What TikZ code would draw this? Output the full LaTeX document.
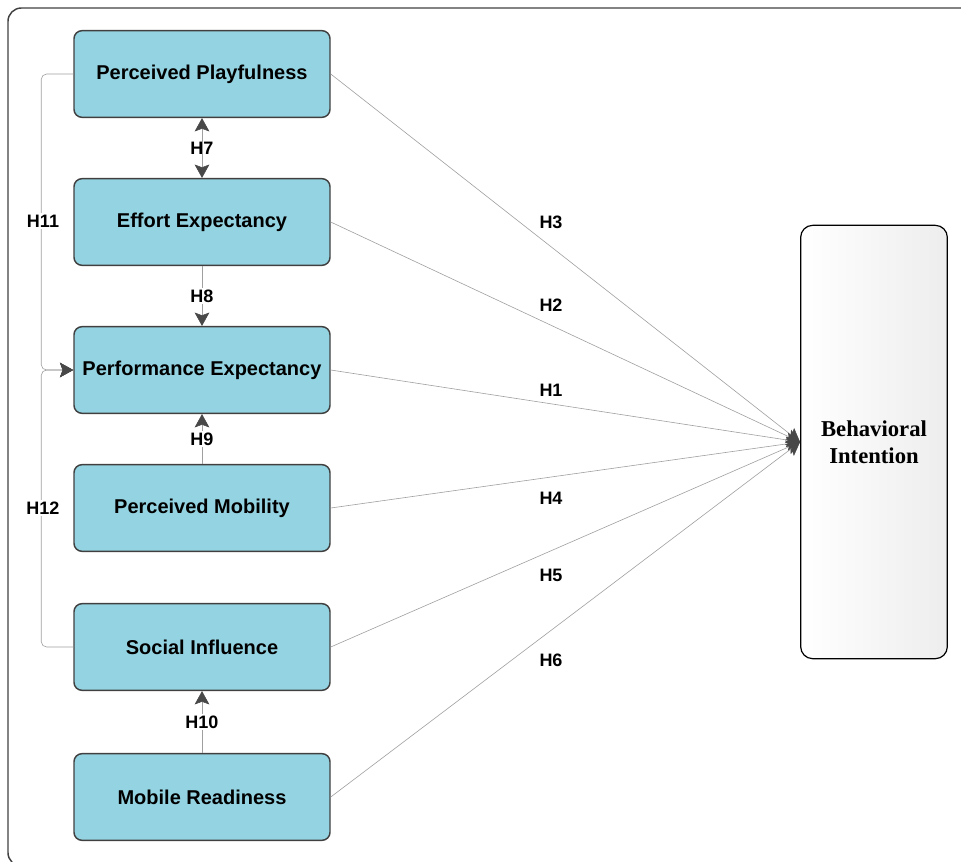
\documentclass[tikz,border=0pt]{standalone}
\usepackage{fontspec}
\setmainfont{Liberation Serif}
\newfontfamily\boxfont{Liberation Sans}
\usetikzlibrary{arrows.meta,positioning}

\definecolor{boxblue}{RGB}{148,212,226}
\definecolor{boxline}{RGB}{64,64,64}
\definecolor{tipgray}{RGB}{72,72,72}

\tikzset{
  construct/.style={draw=boxline, line width=1.1pt, fill=boxblue, rounded corners=6pt,
    minimum width=192pt, minimum height=65pt,
    font=\boxfont\bfseries\fontsize{15}{18}\selectfont},
  outcome/.style={draw=black, line width=0.9pt, rounded corners=9pt,
    left color=white, right color=gray!14,
    minimum width=110pt, minimum height=325pt, align=center,
    font=\bfseries\fontsize{17}{20}\selectfont},
  hyp/.style={font=\boxfont\bfseries\fontsize{13.5}{16}\selectfont, inner sep=1.5pt},
  tipg/.tip={Stealth[length=10pt,width=11pt,inset=2pt,color=tipgray,line width=0.4pt]},
  link/.style={draw=gray!75, line width=0.45pt, -tipg},
}

\begin{document}
\begin{tikzpicture}[x=0.75pt, y=-0.75pt]
    \useasboundingbox (0,0) rectangle (961,861);

    % marco
    \draw[boxline, line width=1.1pt, rounded corners=10pt]
      (965,866) -- (8,866) -- (8,8) -- (965,8);

    % \constructos
    \node[construct] (pp) at (202,74) {Perceived Playfulness};
    \node[construct] (ee) at (202,222) {Effort Expectancy};
    \node[construct] (pe) at (202,370) {Performance Expectancy};
    \node[construct] (pm) at (202,508) {Perceived Mobility};
    \node[construct] (si) at (202,647) {Social Influence};
    \node[construct] (mr) at (202,797) {Mobile Readiness};

    \node[outcome] (bi) at (874,442) {Behavioral\\Intention};

    % hacia Behavioral Intention
    \draw[link] (pp.east) -- (bi.west);
    \draw[link] (ee.east) -- (bi.west);
    \draw[link] (pe.east) -- (bi.west);
    \draw[link] (pm.east) -- (bi.west);
    \draw[link] (si.east) -- (bi.west);
    \draw[link] (mr.east) -- (bi.west);

    \node[hyp] at (551,222) {H3};
    \node[hyp] at (551,305) {H2};
    \node[hyp] at (551,390) {H1};
    \node[hyp] at (551,498) {H4};
    \node[hyp] at (551,575) {H5};
    \node[hyp] at (551,660) {H6};

    % entre constructos
    \draw[link, tipg-tipg] (pp.south) -- (ee.north) node[midway, hyp] {H7};
    \draw[link] (ee.south) -- (pe.north) node[midway, hyp, fill=white] {H8};
    \draw[link] (pm.north) -- (pe.south) node[midway, hyp, fill=white] {H9};
    \draw[link] (mr.north) -- (si.south) node[midway, hyp, fill=white] {H10};

    % izquierda
    \draw[link, rounded corners=4pt] (pp.west) -- ++(-32,0) |- (pe.west);
    \draw[link, rounded corners=4pt] (si.west) -- ++(-32,0) |- (pe.west);
    \node[hyp, fill=white] at (43,221) {H11};
    \node[hyp, fill=white] at (43,508) {H12};

\end{tikzpicture}
\end{document}
